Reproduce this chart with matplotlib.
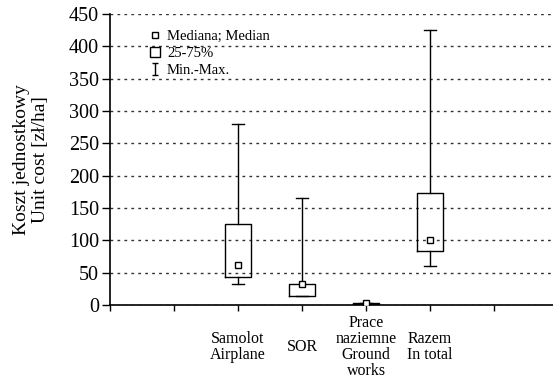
import matplotlib
matplotlib.use("Agg")
import matplotlib.pyplot as plt
from matplotlib.lines import Line2D
from matplotlib.path import Path

plt.rcParams['font.family'] = ['Liberation Serif', 'DejaVu Serif']

categories = ["Samolot\nAirplane", "SOR", "Prace\nnaziemne\nGround\nworks", "Razem\nIn total"]
positions = [2, 3, 4, 5]
medians = [62, 32, 3, 100]
q1 = [44, 14, 1, 83]
q3 = [126, 33, 3, 173]
mins = [32, 32, 0, 61]
maxs = [280, 166, 3, 425]
yticks = [0, 50, 100, 150, 200, 250, 300, 350, 400, 450]

fig = plt.figure(figsize=(5.53, 3.8), dpi=100)
ax = fig.add_axes([110/553, 1 - 305/380, 1 - 110/553, (305 - 14)/380])

stats = []
for i in range(len(categories)):
    stats.append(dict(med=medians[i], q1=q1[i], q3=q3[i],
                      whislo=min(mins[i], q1[i]), whishi=maxs[i], fliers=[]))

ax.bxp(stats, positions=positions, widths=0.4, capwidths=0.19, showfliers=False,
       boxprops=dict(color='black', linewidth=1.0),
       whiskerprops=dict(color='black', linewidth=1.0),
       capprops=dict(color='black', linewidth=1.0),
       medianprops=dict(linewidth=0), manage_ticks=False, zorder=3)
ax.plot(positions, medians, ls='none', marker='s', ms=4, mfc='white', mec='black',
        mew=1.0, zorder=4)

ax.set_xlim(0, 6.92)
ax.set_ylim(0, 450)
ax.set_yticks(yticks)
ax.set_xticks(range(0, 7))
ax.set_xticklabels([""] * 2 + categories + [""], fontsize=11.5, linespacing=1.0)
ax.tick_params(axis='y', labelsize=14.5, length=6, width=1, direction='out', pad=2)
ax.tick_params(axis='x', length=4.5, width=1, direction='out', pad=25.5)
for lbl in ax.get_xticklabels():
    lbl.set_verticalalignment('center')
ax.yaxis.grid(True, linestyle=(0, (2, 3)), color='#333333', linewidth=1.0)
ax.set_axisbelow(True)
for s in ['top', 'right']:
    ax.spines[s].set_visible(False)
ax.spines['left'].set_linewidth(1.2)
ax.spines['bottom'].set_linewidth(1.2)

ax.set_ylabel("Koszt jednostkowy\nUnit cost [zł/ha]", fontsize=14, labelpad=14,
              linespacing=1.15)

ibeam = Path([(-0.5, 1), (0.5, 1), (0, 1), (0, -1), (-0.5, -1), (0.5, -1)],
             [Path.MOVETO, Path.LINETO, Path.MOVETO, Path.LINETO, Path.MOVETO, Path.LINETO])
handles = [
    Line2D([], [], ls='none', marker='s', ms=4, mfc='white', mec='black'),
    Line2D([], [], ls='none', marker='s', ms=7.5, mfc='white', mec='black'),
    Line2D([], [], ls='none', marker=ibeam, ms=8, mec='black', mew=1.0),
]
leg = ax.legend(handles, ["Mediana; Median", "25-75%", "Min.-Max."],
                loc='upper left', bbox_to_anchor=(0.068, 0.98), frameon=False,
                fontsize=10.5, handlelength=0.7, handletextpad=0.45,
                labelspacing=0.25, borderpad=0.2)

fig.savefig("out.png", dpi=100)
